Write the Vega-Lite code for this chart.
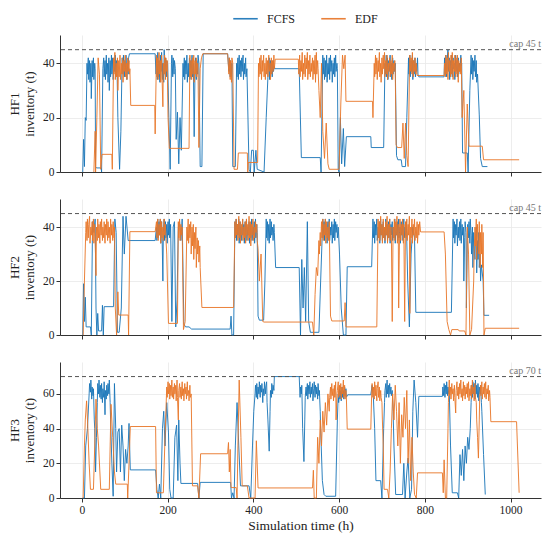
{
"$schema":"https://vega.github.io/schema/vega-lite/v6.json",
"padding":{"left":8,"top":5,"right":9,"bottom":5},
"spacing":21,
"datasets":{
"hf1_fcfs":[{"t":2,"v":0},{"t":4,"v":12},{"t":6,"v":2},{"t":8,"v":20},{"t":10,"v":19},{"t":12,"v":40},{"t":13,"v":36},{"t":15,"v":42},{"t":16,"v":34},{"t":18,"v":41},{"t":19,"v":33},{"t":21,"v":40},{"t":22,"v":27},{"t":24,"v":41},{"t":25,"v":35},{"t":27,"v":42},{"t":28,"v":34},{"t":30,"v":40},{"t":31,"v":38},{"t":32,"v":2},{"t":34,"v":1.5},{"t":45,"v":1.5},{"t":46,"v":0},{"t":49,"v":38},{"t":51,"v":42},{"t":52,"v":35},{"t":54,"v":41},{"t":55,"v":34},{"t":57,"v":43},{"t":58,"v":36},{"t":60,"v":40},{"t":61,"v":33},{"t":63,"v":42},{"t":64,"v":30},{"t":66,"v":41},{"t":67,"v":35},{"t":69,"v":43},{"t":70,"v":36},{"t":72,"v":42},{"t":73,"v":34},{"t":75,"v":41},{"t":76,"v":37},{"t":78,"v":43},{"t":79,"v":35},{"t":81,"v":41},{"t":82,"v":38},{"t":84,"v":20},{"t":88,"v":1},{"t":91,"v":15},{"t":94,"v":42},{"t":96,"v":36},{"t":97,"v":43},{"t":99,"v":35},{"t":100,"v":41},{"t":102,"v":37},{"t":103,"v":43},{"t":105,"v":34},{"t":106,"v":40},{"t":108,"v":36},{"t":109,"v":42},{"t":111,"v":43.5},{"t":171,"v":43.5},{"t":173,"v":36},{"t":174,"v":42},{"t":176,"v":34},{"t":177,"v":44},{"t":179,"v":35},{"t":180,"v":41},{"t":182,"v":33},{"t":183,"v":43},{"t":185,"v":37},{"t":186,"v":44},{"t":188,"v":34},{"t":189,"v":40},{"t":191,"v":33},{"t":192,"v":45},{"t":194,"v":36},{"t":195,"v":42},{"t":197,"v":35},{"t":198,"v":41},{"t":200,"v":40},{"t":203,"v":20},{"t":206,"v":1},{"t":209,"v":40},{"t":210,"v":43},{"t":212,"v":35},{"t":213,"v":42},{"t":215,"v":36},{"t":216,"v":41},{"t":218,"v":38},{"t":220,"v":12},{"t":223,"v":22},{"t":226,"v":3},{"t":229,"v":20},{"t":232,"v":8},{"t":236,"v":40},{"t":237,"v":35},{"t":239,"v":42},{"t":240,"v":34},{"t":242,"v":41},{"t":243,"v":36},{"t":245,"v":43},{"t":246,"v":33},{"t":248,"v":40},{"t":249,"v":35},{"t":251,"v":42},{"t":252,"v":34},{"t":254,"v":41},{"t":255,"v":36},{"t":257,"v":43},{"t":258,"v":35},{"t":260,"v":40},{"t":262,"v":13},{"t":264,"v":38},{"t":265,"v":42},{"t":267,"v":34},{"t":268,"v":41},{"t":270,"v":36},{"t":271,"v":43},{"t":273,"v":40},{"t":276,"v":2},{"t":280,"v":2},{"t":283,"v":43.5},{"t":340,"v":43.5},{"t":343,"v":37},{"t":344,"v":42},{"t":346,"v":35},{"t":347,"v":41},{"t":349,"v":35},{"t":350,"v":40},{"t":352,"v":2},{"t":358,"v":2},{"t":361,"v":40},{"t":362,"v":35},{"t":364,"v":42},{"t":365,"v":34},{"t":367,"v":43},{"t":368,"v":36},{"t":370,"v":41},{"t":371,"v":35},{"t":373,"v":42},{"t":374,"v":37},{"t":376,"v":43},{"t":377,"v":34},{"t":379,"v":40},{"t":380,"v":36},{"t":382,"v":42},{"t":383,"v":35},{"t":385,"v":38},{"t":390,"v":1},{"t":393,"v":0},{"t":396,"v":8},{"t":400,"v":8},{"t":402,"v":0},{"t":406,"v":8},{"t":409,"v":1},{"t":425,"v":0},{"t":430,"v":20},{"t":434,"v":35},{"t":435,"v":40},{"t":437,"v":42},{"t":438,"v":34},{"t":440,"v":41},{"t":441,"v":36},{"t":443,"v":40},{"t":444,"v":35},{"t":446,"v":41},{"t":447,"v":37},{"t":449,"v":39},{"t":450,"v":38},{"t":507,"v":38},{"t":512,"v":5.3},{"t":556,"v":5.3},{"t":558,"v":0},{"t":562,"v":43},{"t":563,"v":36},{"t":565,"v":42},{"t":566,"v":34},{"t":568,"v":41},{"t":569,"v":35},{"t":571,"v":43},{"t":572,"v":33},{"t":574,"v":40},{"t":575,"v":36},{"t":577,"v":42},{"t":578,"v":34},{"t":580,"v":43},{"t":581,"v":37},{"t":583,"v":41},{"t":584,"v":33},{"t":586,"v":40},{"t":587,"v":36},{"t":589,"v":42},{"t":590,"v":35},{"t":592,"v":43},{"t":593,"v":37},{"t":595,"v":40},{"t":596,"v":38},{"t":598,"v":1},{"t":600,"v":0},{"t":603,"v":20},{"t":606,"v":3},{"t":610,"v":16},{"t":613,"v":2},{"t":617,"v":13},{"t":674,"v":13},{"t":675,"v":9},{"t":704,"v":9},{"t":707,"v":40},{"t":708,"v":36},{"t":710,"v":43},{"t":711,"v":35},{"t":713,"v":42},{"t":714,"v":34},{"t":716,"v":41},{"t":717,"v":37},{"t":719,"v":43},{"t":720,"v":35},{"t":722,"v":40},{"t":723,"v":34},{"t":725,"v":42},{"t":726,"v":36},{"t":728,"v":41},{"t":729,"v":37},{"t":731,"v":40},{"t":734,"v":6},{"t":737,"v":4.5},{"t":745,"v":4.5},{"t":747,"v":2},{"t":755,"v":2},{"t":758,"v":20},{"t":762,"v":42},{"t":763,"v":36},{"t":765,"v":43},{"t":766,"v":35},{"t":768,"v":41},{"t":769,"v":37},{"t":771,"v":43},{"t":772,"v":34},{"t":774,"v":41},{"t":775,"v":36},{"t":777,"v":42},{"t":778,"v":35},{"t":780,"v":40},{"t":781,"v":37},{"t":783,"v":42},{"t":784,"v":36},{"t":786,"v":35},{"t":845,"v":35},{"t":846,"v":42},{"t":848,"v":36},{"t":849,"v":43},{"t":851,"v":35},{"t":852,"v":41},{"t":854,"v":45},{"t":855,"v":37},{"t":857,"v":42},{"t":858,"v":34},{"t":860,"v":41},{"t":861,"v":36},{"t":863,"v":43},{"t":864,"v":35},{"t":866,"v":42},{"t":867,"v":38},{"t":869,"v":40},{"t":870,"v":34},{"t":872,"v":43},{"t":873,"v":37},{"t":875,"v":41},{"t":876,"v":35},{"t":878,"v":42},{"t":879,"v":36},{"t":881,"v":40},{"t":882,"v":37},{"t":884,"v":43},{"t":885,"v":39},{"t":886,"v":40},{"t":888,"v":7},{"t":899,"v":7},{"t":901,"v":0},{"t":905,"v":30},{"t":908,"v":43},{"t":909,"v":36},{"t":911,"v":42},{"t":912,"v":34},{"t":914,"v":41},{"t":915,"v":37},{"t":917,"v":43},{"t":918,"v":35},{"t":920,"v":41},{"t":921,"v":33},{"t":923,"v":36},{"t":927,"v":21},{"t":930,"v":5},{"t":934,"v":2},{"t":946,"v":2}],
"hf1_edf":[{"t":28,"v":0},{"t":31,"v":15},{"t":32,"v":0},{"t":35,"v":20},{"t":38,"v":42},{"t":41,"v":36},{"t":44,"v":1},{"t":47,"v":6.5},{"t":70,"v":6.5},{"t":71,"v":1},{"t":74,"v":42},{"t":75,"v":36},{"t":77,"v":44},{"t":78,"v":34},{"t":80,"v":40},{"t":81,"v":35},{"t":83,"v":42},{"t":84,"v":30},{"t":86,"v":41},{"t":87,"v":35},{"t":89,"v":43},{"t":90,"v":34},{"t":92,"v":40},{"t":93,"v":36},{"t":95,"v":42},{"t":96,"v":33},{"t":98,"v":41},{"t":99,"v":37},{"t":101,"v":43},{"t":102,"v":35},{"t":104,"v":40},{"t":105,"v":34},{"t":107,"v":42},{"t":108,"v":37},{"t":110,"v":41},{"t":111,"v":36},{"t":112,"v":38},{"t":114,"v":24.5},{"t":170,"v":24.5},{"t":171,"v":14},{"t":174,"v":43},{"t":175,"v":35},{"t":177,"v":42},{"t":178,"v":34},{"t":180,"v":44},{"t":181,"v":36},{"t":183,"v":41},{"t":184,"v":33},{"t":186,"v":43},{"t":187,"v":35},{"t":189,"v":24},{"t":190,"v":40},{"t":192,"v":36},{"t":193,"v":43},{"t":195,"v":34},{"t":196,"v":42},{"t":198,"v":37},{"t":199,"v":41},{"t":201,"v":20},{"t":204,"v":8.7},{"t":250,"v":8.7},{"t":252,"v":43},{"t":253,"v":35},{"t":255,"v":41},{"t":256,"v":34},{"t":258,"v":42},{"t":259,"v":36},{"t":261,"v":43},{"t":262,"v":33},{"t":264,"v":41},{"t":265,"v":36},{"t":267,"v":42},{"t":268,"v":35},{"t":270,"v":40},{"t":271,"v":37},{"t":273,"v":9},{"t":276,"v":38},{"t":279,"v":42},{"t":282,"v":43.5},{"t":340,"v":43.5},{"t":343,"v":36},{"t":344,"v":42},{"t":346,"v":34},{"t":347,"v":41},{"t":349,"v":33},{"t":350,"v":42},{"t":352,"v":40},{"t":355,"v":1},{"t":363,"v":1},{"t":365,"v":7},{"t":386,"v":7},{"t":387,"v":0},{"t":388,"v":3.5},{"t":410,"v":3.5},{"t":412,"v":40},{"t":413,"v":35},{"t":415,"v":42},{"t":416,"v":36},{"t":418,"v":43},{"t":419,"v":34},{"t":421,"v":41},{"t":422,"v":37},{"t":424,"v":43},{"t":425,"v":35},{"t":427,"v":40},{"t":428,"v":34},{"t":430,"v":42},{"t":431,"v":36},{"t":433,"v":41},{"t":434,"v":35},{"t":436,"v":43},{"t":437,"v":37},{"t":439,"v":40},{"t":440,"v":34},{"t":442,"v":42},{"t":443,"v":36},{"t":445,"v":41},{"t":446,"v":37},{"t":448,"v":43},{"t":449,"v":38},{"t":451,"v":41.5},{"t":505,"v":41.5},{"t":506,"v":36},{"t":508,"v":43},{"t":509,"v":35},{"t":511,"v":41},{"t":512,"v":37},{"t":514,"v":44},{"t":515,"v":34},{"t":517,"v":40},{"t":518,"v":36},{"t":520,"v":43},{"t":521,"v":35},{"t":523,"v":42},{"t":524,"v":38},{"t":526,"v":44},{"t":527,"v":34},{"t":529,"v":41},{"t":530,"v":36},{"t":532,"v":43},{"t":533,"v":35},{"t":535,"v":40},{"t":536,"v":37},{"t":538,"v":42},{"t":539,"v":34},{"t":541,"v":41},{"t":542,"v":36},{"t":544,"v":43},{"t":545,"v":33},{"t":547,"v":44},{"t":548,"v":36},{"t":550,"v":41},{"t":551,"v":38},{"t":553,"v":30},{"t":556,"v":20},{"t":559,"v":40},{"t":562,"v":15},{"t":566,"v":5},{"t":570,"v":18},{"t":574,"v":3},{"t":577,"v":1},{"t":600,"v":1},{"t":604,"v":25},{"t":608,"v":43},{"t":611,"v":38},{"t":614,"v":43},{"t":616,"v":26},{"t":678,"v":26},{"t":679,"v":20},{"t":682,"v":40},{"t":683,"v":35},{"t":685,"v":43},{"t":686,"v":36},{"t":688,"v":42},{"t":689,"v":34},{"t":691,"v":41},{"t":692,"v":37},{"t":694,"v":44},{"t":695,"v":35},{"t":697,"v":40},{"t":698,"v":33},{"t":700,"v":42},{"t":701,"v":36},{"t":703,"v":43},{"t":704,"v":38},{"t":706,"v":44},{"t":707,"v":35},{"t":709,"v":41},{"t":710,"v":36},{"t":712,"v":43},{"t":713,"v":34},{"t":715,"v":40},{"t":716,"v":37},{"t":718,"v":42},{"t":719,"v":35},{"t":721,"v":41},{"t":722,"v":36},{"t":724,"v":43},{"t":725,"v":34},{"t":727,"v":40},{"t":728,"v":37},{"t":730,"v":41},{"t":731,"v":38},{"t":733,"v":10},{"t":736,"v":9},{"t":746,"v":9},{"t":749,"v":18},{"t":752,"v":5},{"t":755,"v":18},{"t":758,"v":6},{"t":761,"v":2},{"t":764,"v":35},{"t":765,"v":43},{"t":767,"v":37},{"t":768,"v":42},{"t":770,"v":36},{"t":771,"v":44},{"t":773,"v":35},{"t":774,"v":41},{"t":776,"v":37},{"t":777,"v":42},{"t":779,"v":36},{"t":780,"v":40},{"t":782,"v":35.5},{"t":845,"v":35.5},{"t":846,"v":40},{"t":848,"v":35},{"t":849,"v":43},{"t":851,"v":36},{"t":852,"v":42},{"t":854,"v":34},{"t":855,"v":44},{"t":857,"v":37},{"t":858,"v":41},{"t":860,"v":35},{"t":861,"v":43},{"t":863,"v":36},{"t":864,"v":44},{"t":866,"v":34},{"t":867,"v":41},{"t":869,"v":37},{"t":870,"v":43},{"t":872,"v":35},{"t":873,"v":42},{"t":875,"v":36},{"t":876,"v":43},{"t":878,"v":33},{"t":879,"v":41},{"t":881,"v":37},{"t":882,"v":40},{"t":884,"v":36},{"t":885,"v":42},{"t":887,"v":20},{"t":891,"v":30},{"t":895,"v":0},{"t":899,"v":25},{"t":903,"v":9.5},{"t":934,"v":9.5},{"t":937,"v":4.5},{"t":1020,"v":4.5}],
"hf2_fcfs":[{"t":2,"v":0},{"t":4,"v":19},{"t":6,"v":5},{"t":8,"v":14},{"t":10,"v":3},{"t":20,"v":3},{"t":22,"v":0},{"t":25,"v":42},{"t":28,"v":38},{"t":31,"v":43},{"t":33,"v":10},{"t":35,"v":0},{"t":37,"v":8},{"t":39,"v":1.5},{"t":46,"v":1.5},{"t":48,"v":11},{"t":50,"v":0},{"t":52,"v":10.5},{"t":74,"v":10.5},{"t":77,"v":43},{"t":80,"v":38},{"t":83,"v":1},{"t":87,"v":1},{"t":92,"v":10},{"t":96,"v":44},{"t":99,"v":30},{"t":103,"v":44},{"t":108,"v":35},{"t":171,"v":35},{"t":174,"v":40},{"t":175,"v":35},{"t":177,"v":43},{"t":178,"v":36},{"t":180,"v":42},{"t":181,"v":37},{"t":183,"v":43},{"t":184,"v":34},{"t":186,"v":42},{"t":187,"v":38},{"t":189,"v":20},{"t":190,"v":38},{"t":192,"v":43},{"t":193,"v":35},{"t":195,"v":42},{"t":196,"v":36},{"t":198,"v":41},{"t":199,"v":34},{"t":201,"v":42},{"t":202,"v":37},{"t":204,"v":43},{"t":205,"v":36},{"t":207,"v":41},{"t":210,"v":5},{"t":213,"v":40},{"t":216,"v":42},{"t":219,"v":3},{"t":222,"v":13},{"t":225,"v":40},{"t":228,"v":42},{"t":231,"v":35},{"t":234,"v":43},{"t":238,"v":4},{"t":242,"v":3},{"t":250,"v":3},{"t":256,"v":2.2},{"t":346,"v":2.2},{"t":348,"v":7},{"t":350,"v":0},{"t":354,"v":0},{"t":357,"v":42},{"t":358,"v":36},{"t":360,"v":43},{"t":361,"v":35},{"t":363,"v":41},{"t":364,"v":37},{"t":366,"v":43},{"t":367,"v":34},{"t":369,"v":42},{"t":370,"v":36},{"t":372,"v":40},{"t":373,"v":35},{"t":375,"v":43},{"t":376,"v":37},{"t":378,"v":41},{"t":379,"v":34},{"t":381,"v":42},{"t":382,"v":36},{"t":384,"v":43},{"t":385,"v":35},{"t":387,"v":40},{"t":388,"v":37},{"t":390,"v":42},{"t":391,"v":34},{"t":393,"v":41},{"t":394,"v":36},{"t":396,"v":43},{"t":397,"v":35},{"t":399,"v":40},{"t":400,"v":37},{"t":402,"v":42},{"t":403,"v":34},{"t":405,"v":43},{"t":406,"v":36},{"t":408,"v":41},{"t":409,"v":38},{"t":411,"v":7},{"t":414,"v":5.5},{"t":424,"v":5.5},{"t":427,"v":20},{"t":430,"v":43},{"t":431,"v":36},{"t":433,"v":42},{"t":434,"v":35},{"t":436,"v":41},{"t":437,"v":34},{"t":439,"v":43},{"t":440,"v":36},{"t":442,"v":42},{"t":443,"v":37},{"t":445,"v":40},{"t":446,"v":35},{"t":448,"v":41},{"t":449,"v":38},{"t":452,"v":25},{"t":507,"v":25},{"t":510,"v":0},{"t":513,"v":28},{"t":516,"v":10},{"t":519,"v":25},{"t":522,"v":5},{"t":526,"v":42},{"t":529,"v":5},{"t":533,"v":1},{"t":553,"v":1},{"t":557,"v":20},{"t":562,"v":43},{"t":563,"v":36},{"t":565,"v":42},{"t":566,"v":35},{"t":568,"v":43},{"t":569,"v":37},{"t":571,"v":41},{"t":572,"v":34},{"t":574,"v":42},{"t":575,"v":36},{"t":577,"v":43},{"t":578,"v":35},{"t":580,"v":40},{"t":581,"v":37},{"t":583,"v":42},{"t":584,"v":34},{"t":586,"v":41},{"t":587,"v":36},{"t":589,"v":43},{"t":590,"v":35},{"t":592,"v":42},{"t":593,"v":38},{"t":595,"v":41},{"t":596,"v":36},{"t":598,"v":40},{"t":601,"v":30},{"t":605,"v":10},{"t":610,"v":0},{"t":616,"v":0},{"t":619,"v":25.3},{"t":676,"v":25.3},{"t":679,"v":43},{"t":680,"v":36},{"t":682,"v":42},{"t":683,"v":34},{"t":685,"v":41},{"t":686,"v":37},{"t":688,"v":43},{"t":689,"v":35},{"t":691,"v":40},{"t":692,"v":36},{"t":694,"v":42},{"t":695,"v":34},{"t":697,"v":43},{"t":698,"v":37},{"t":700,"v":41},{"t":701,"v":35},{"t":703,"v":42},{"t":704,"v":36},{"t":706,"v":40},{"t":707,"v":34},{"t":709,"v":43},{"t":710,"v":37},{"t":712,"v":41},{"t":713,"v":35},{"t":715,"v":42},{"t":716,"v":36},{"t":718,"v":43},{"t":719,"v":34},{"t":721,"v":41},{"t":722,"v":37},{"t":724,"v":42},{"t":725,"v":35},{"t":727,"v":40},{"t":728,"v":36},{"t":730,"v":43},{"t":731,"v":34},{"t":733,"v":41},{"t":734,"v":37},{"t":736,"v":42},{"t":737,"v":35},{"t":739,"v":43},{"t":740,"v":36},{"t":742,"v":40},{"t":743,"v":34},{"t":745,"v":42},{"t":746,"v":37},{"t":748,"v":41},{"t":749,"v":35},{"t":751,"v":43},{"t":752,"v":36},{"t":754,"v":40},{"t":755,"v":37},{"t":757,"v":42},{"t":760,"v":20},{"t":764,"v":3},{"t":768,"v":30},{"t":772,"v":40},{"t":776,"v":36},{"t":779,"v":8.4},{"t":862,"v":8.4},{"t":866,"v":43},{"t":867,"v":36},{"t":869,"v":42},{"t":870,"v":34},{"t":872,"v":41},{"t":873,"v":37},{"t":875,"v":43},{"t":876,"v":33},{"t":878,"v":40},{"t":879,"v":36},{"t":881,"v":42},{"t":882,"v":35},{"t":884,"v":43},{"t":885,"v":34},{"t":887,"v":41},{"t":888,"v":37},{"t":890,"v":40},{"t":891,"v":20},{"t":893,"v":36},{"t":894,"v":42},{"t":896,"v":38},{"t":897,"v":10},{"t":899,"v":35},{"t":900,"v":41},{"t":902,"v":36},{"t":903,"v":42},{"t":905,"v":34},{"t":906,"v":43},{"t":908,"v":37},{"t":909,"v":30},{"t":911,"v":40},{"t":912,"v":25},{"t":914,"v":38},{"t":915,"v":33},{"t":917,"v":28},{"t":918,"v":35},{"t":920,"v":40},{"t":921,"v":23},{"t":923,"v":35},{"t":924,"v":28},{"t":926,"v":38},{"t":927,"v":25},{"t":929,"v":30},{"t":930,"v":20},{"t":932,"v":26},{"t":936,"v":20},{"t":938,"v":7.3},{"t":950,"v":7.3}],
"hf2_edf":[{"t":3,"v":0},{"t":6,"v":20},{"t":9,"v":38},{"t":10,"v":42},{"t":12,"v":35},{"t":13,"v":43},{"t":15,"v":36},{"t":16,"v":41},{"t":18,"v":44},{"t":19,"v":34},{"t":21,"v":40},{"t":22,"v":37},{"t":24,"v":42},{"t":25,"v":35},{"t":27,"v":43},{"t":28,"v":34},{"t":30,"v":41},{"t":31,"v":36},{"t":33,"v":22},{"t":34,"v":40},{"t":36,"v":35},{"t":37,"v":43},{"t":39,"v":36},{"t":40,"v":41},{"t":42,"v":34},{"t":43,"v":42},{"t":45,"v":37},{"t":46,"v":43},{"t":48,"v":35},{"t":49,"v":40},{"t":51,"v":36},{"t":52,"v":42},{"t":54,"v":34},{"t":55,"v":41},{"t":57,"v":37},{"t":58,"v":43},{"t":60,"v":35},{"t":61,"v":42},{"t":63,"v":36},{"t":64,"v":40},{"t":66,"v":34},{"t":67,"v":43},{"t":69,"v":37},{"t":70,"v":41},{"t":72,"v":35},{"t":73,"v":42},{"t":75,"v":36},{"t":76,"v":40},{"t":78,"v":10},{"t":81,"v":0},{"t":84,"v":16},{"t":86,"v":7.4},{"t":108,"v":7.4},{"t":109,"v":0},{"t":112,"v":38.3},{"t":171,"v":38.3},{"t":174,"v":42},{"t":175,"v":36},{"t":177,"v":43},{"t":178,"v":35},{"t":180,"v":41},{"t":181,"v":37},{"t":183,"v":43},{"t":184,"v":34},{"t":186,"v":42},{"t":187,"v":36},{"t":189,"v":40},{"t":190,"v":35},{"t":192,"v":43},{"t":193,"v":37},{"t":195,"v":41},{"t":196,"v":36},{"t":198,"v":30},{"t":202,"v":4.3},{"t":223,"v":4.3},{"t":225,"v":42},{"t":226,"v":36},{"t":228,"v":43},{"t":229,"v":35},{"t":231,"v":41},{"t":232,"v":37},{"t":234,"v":40},{"t":237,"v":2},{"t":241,"v":5},{"t":245,"v":40},{"t":246,"v":35},{"t":248,"v":43},{"t":249,"v":34},{"t":251,"v":41},{"t":252,"v":36},{"t":254,"v":42},{"t":255,"v":30},{"t":257,"v":40},{"t":258,"v":33},{"t":260,"v":41},{"t":261,"v":28},{"t":263,"v":38},{"t":264,"v":32},{"t":266,"v":40},{"t":267,"v":25},{"t":269,"v":36},{"t":270,"v":30},{"t":272,"v":35},{"t":273,"v":27},{"t":275,"v":33},{"t":276,"v":25},{"t":280,"v":10.2},{"t":354,"v":10.2},{"t":357,"v":42},{"t":358,"v":36},{"t":360,"v":43},{"t":361,"v":37},{"t":363,"v":41},{"t":364,"v":35},{"t":366,"v":44},{"t":367,"v":36},{"t":369,"v":42},{"t":370,"v":34},{"t":372,"v":41},{"t":373,"v":37},{"t":375,"v":43},{"t":376,"v":35},{"t":378,"v":40},{"t":379,"v":36},{"t":381,"v":42},{"t":382,"v":34},{"t":384,"v":43},{"t":385,"v":37},{"t":387,"v":41},{"t":388,"v":35},{"t":390,"v":44},{"t":391,"v":36},{"t":393,"v":42},{"t":394,"v":33},{"t":396,"v":41},{"t":397,"v":37},{"t":399,"v":43},{"t":400,"v":35},{"t":402,"v":40},{"t":403,"v":36},{"t":405,"v":42},{"t":406,"v":38},{"t":408,"v":41},{"t":409,"v":35},{"t":411,"v":32},{"t":414,"v":20},{"t":418,"v":30},{"t":422,"v":5},{"t":425,"v":4.8},{"t":538,"v":4.8},{"t":541,"v":0},{"t":544,"v":15},{"t":547,"v":25},{"t":550,"v":22},{"t":553,"v":35},{"t":554,"v":30},{"t":556,"v":38},{"t":557,"v":33},{"t":559,"v":42},{"t":560,"v":36},{"t":562,"v":43},{"t":563,"v":35},{"t":565,"v":41},{"t":566,"v":37},{"t":568,"v":43},{"t":569,"v":34},{"t":571,"v":42},{"t":572,"v":36},{"t":574,"v":40},{"t":575,"v":35},{"t":577,"v":42},{"t":580,"v":7},{"t":583,"v":5.2},{"t":612,"v":5.2},{"t":614,"v":12},{"t":616,"v":3},{"t":688,"v":3},{"t":691,"v":43},{"t":692,"v":36},{"t":694,"v":42},{"t":695,"v":35},{"t":697,"v":44},{"t":698,"v":37},{"t":700,"v":41},{"t":701,"v":34},{"t":703,"v":43},{"t":704,"v":36},{"t":706,"v":40},{"t":707,"v":35},{"t":709,"v":42},{"t":710,"v":37},{"t":712,"v":44},{"t":713,"v":34},{"t":715,"v":41},{"t":716,"v":36},{"t":718,"v":43},{"t":719,"v":35},{"t":721,"v":40},{"t":722,"v":37},{"t":724,"v":5},{"t":726,"v":40},{"t":727,"v":36},{"t":729,"v":43},{"t":730,"v":35},{"t":732,"v":42},{"t":733,"v":37},{"t":735,"v":44},{"t":736,"v":34},{"t":738,"v":41},{"t":739,"v":10},{"t":741,"v":38},{"t":742,"v":43},{"t":744,"v":35},{"t":745,"v":41},{"t":747,"v":37},{"t":748,"v":43},{"t":750,"v":34},{"t":751,"v":41},{"t":753,"v":5},{"t":755,"v":42},{"t":756,"v":36},{"t":758,"v":43},{"t":759,"v":35},{"t":761,"v":41},{"t":762,"v":37},{"t":764,"v":44},{"t":765,"v":8},{"t":767,"v":40},{"t":768,"v":36},{"t":770,"v":43},{"t":771,"v":34},{"t":773,"v":41},{"t":774,"v":37},{"t":776,"v":43},{"t":777,"v":35},{"t":779,"v":40},{"t":780,"v":36},{"t":782,"v":42},{"t":783,"v":34},{"t":785,"v":41},{"t":786,"v":37},{"t":788,"v":42},{"t":790,"v":38.2},{"t":845,"v":38.2},{"t":848,"v":30},{"t":852,"v":5},{"t":856,"v":2},{"t":860,"v":0},{"t":863,"v":2},{"t":878,"v":2},{"t":880,"v":1.5},{"t":893,"v":1.5},{"t":896,"v":0},{"t":899,"v":40},{"t":902,"v":30},{"t":905,"v":0},{"t":909,"v":2},{"t":914,"v":20},{"t":915,"v":30},{"t":917,"v":40},{"t":918,"v":33},{"t":920,"v":43},{"t":921,"v":28},{"t":923,"v":41},{"t":924,"v":35},{"t":926,"v":30},{"t":927,"v":42},{"t":929,"v":25},{"t":930,"v":38},{"t":932,"v":30},{"t":933,"v":41},{"t":935,"v":25},{"t":936,"v":38},{"t":938,"v":0},{"t":941,"v":2.5},{"t":1020,"v":2.5}],
"hf3_fcfs":[{"t":2,"v":0},{"t":6,"v":0},{"t":9,"v":30},{"t":13,"v":40},{"t":17,"v":60},{"t":18,"v":66},{"t":20,"v":61},{"t":21,"v":68},{"t":23,"v":57},{"t":24,"v":64},{"t":26,"v":59},{"t":27,"v":63},{"t":29,"v":45},{"t":30,"v":40},{"t":32,"v":15},{"t":34,"v":35},{"t":36,"v":55},{"t":37,"v":66},{"t":39,"v":60},{"t":40,"v":68},{"t":42,"v":58},{"t":43,"v":65},{"t":45,"v":57},{"t":46,"v":66},{"t":48,"v":55},{"t":49,"v":63},{"t":51,"v":58},{"t":52,"v":67},{"t":54,"v":48},{"t":55,"v":62},{"t":57,"v":57},{"t":58,"v":65},{"t":60,"v":59},{"t":61,"v":66},{"t":63,"v":60},{"t":64,"v":68},{"t":66,"v":55},{"t":67,"v":45},{"t":70,"v":20},{"t":73,"v":1},{"t":76,"v":66},{"t":79,"v":40},{"t":81,"v":15},{"t":84,"v":38},{"t":87,"v":40},{"t":90,"v":15},{"t":93,"v":42},{"t":96,"v":30},{"t":99,"v":10},{"t":102,"v":28},{"t":105,"v":20},{"t":108,"v":30},{"t":110,"v":43},{"t":113,"v":16.2},{"t":172,"v":16.2},{"t":175,"v":5},{"t":178,"v":0},{"t":181,"v":8},{"t":184,"v":0},{"t":188,"v":40},{"t":191,"v":50},{"t":194,"v":30},{"t":198,"v":55},{"t":202,"v":38},{"t":205,"v":5},{"t":208,"v":0},{"t":213,"v":0},{"t":217,"v":35},{"t":221,"v":42},{"t":224,"v":10},{"t":226,"v":45},{"t":229,"v":20},{"t":231,"v":8.4},{"t":270,"v":8.4},{"t":273,"v":0},{"t":276,"v":9},{"t":347,"v":9},{"t":349,"v":0},{"t":352,"v":3},{"t":355,"v":0},{"t":358,"v":30},{"t":362,"v":55},{"t":366,"v":30},{"t":370,"v":7},{"t":390,"v":7},{"t":394,"v":0},{"t":398,"v":30},{"t":401,"v":50},{"t":404,"v":60},{"t":405,"v":65},{"t":407,"v":58},{"t":408,"v":66},{"t":410,"v":57},{"t":411,"v":64},{"t":413,"v":60},{"t":414,"v":67},{"t":416,"v":58},{"t":417,"v":65},{"t":419,"v":61},{"t":420,"v":66},{"t":422,"v":55},{"t":423,"v":63},{"t":425,"v":59},{"t":426,"v":67},{"t":428,"v":60},{"t":429,"v":64},{"t":431,"v":67},{"t":432,"v":55},{"t":434,"v":45},{"t":437,"v":27},{"t":439,"v":50},{"t":440,"v":62},{"t":442,"v":58},{"t":443,"v":66},{"t":445,"v":60},{"t":446,"v":65},{"t":448,"v":62},{"t":449,"v":70},{"t":507,"v":70},{"t":509,"v":58},{"t":510,"v":64},{"t":512,"v":60},{"t":513,"v":65},{"t":515,"v":40},{"t":518,"v":21},{"t":520,"v":45},{"t":521,"v":58},{"t":523,"v":64},{"t":524,"v":59},{"t":526,"v":66},{"t":527,"v":57},{"t":529,"v":65},{"t":530,"v":60},{"t":532,"v":67},{"t":533,"v":58},{"t":535,"v":64},{"t":536,"v":60},{"t":538,"v":66},{"t":539,"v":56},{"t":541,"v":63},{"t":542,"v":67},{"t":544,"v":58},{"t":545,"v":65},{"t":547,"v":60},{"t":548,"v":64},{"t":550,"v":57},{"t":551,"v":66},{"t":553,"v":59},{"t":554,"v":62},{"t":556,"v":50},{"t":557,"v":40},{"t":561,"v":10},{"t":565,"v":2},{"t":569,"v":1},{"t":592,"v":1},{"t":596,"v":45},{"t":598,"v":60},{"t":599,"v":55},{"t":601,"v":63},{"t":602,"v":57},{"t":604,"v":62},{"t":605,"v":56},{"t":607,"v":64},{"t":608,"v":58},{"t":610,"v":62},{"t":611,"v":57},{"t":613,"v":64},{"t":614,"v":59},{"t":616,"v":63},{"t":617,"v":58},{"t":620,"v":59.5},{"t":674,"v":59.5},{"t":677,"v":65},{"t":680,"v":58},{"t":683,"v":40},{"t":686,"v":10},{"t":697,"v":10},{"t":700,"v":0},{"t":704,"v":40},{"t":706,"v":55},{"t":707,"v":62},{"t":709,"v":66},{"t":710,"v":58},{"t":712,"v":68},{"t":713,"v":60},{"t":715,"v":65},{"t":716,"v":58},{"t":718,"v":66},{"t":719,"v":60},{"t":721,"v":64},{"t":722,"v":59},{"t":724,"v":62},{"t":726,"v":50},{"t":728,"v":30},{"t":732,"v":2},{"t":748,"v":2},{"t":751,"v":20},{"t":754,"v":0},{"t":758,"v":15},{"t":761,"v":23},{"t":765,"v":0},{"t":769,"v":5},{"t":772,"v":50},{"t":775,"v":68},{"t":779,"v":55},{"t":783,"v":35},{"t":786,"v":58.6},{"t":841,"v":58.6},{"t":842,"v":64},{"t":844,"v":59},{"t":845,"v":66},{"t":847,"v":58},{"t":848,"v":65},{"t":850,"v":60},{"t":851,"v":67},{"t":853,"v":59},{"t":854,"v":64},{"t":856,"v":60},{"t":857,"v":62},{"t":860,"v":30},{"t":864,"v":3},{"t":876,"v":3},{"t":879,"v":0},{"t":882,"v":25},{"t":885,"v":13},{"t":888,"v":28},{"t":891,"v":10},{"t":894,"v":30},{"t":897,"v":20},{"t":900,"v":35},{"t":903,"v":28},{"t":906,"v":40},{"t":908,"v":55},{"t":909,"v":65},{"t":911,"v":58},{"t":912,"v":67},{"t":914,"v":60},{"t":915,"v":66},{"t":917,"v":57},{"t":918,"v":68},{"t":920,"v":60},{"t":921,"v":65},{"t":923,"v":58},{"t":924,"v":66},{"t":926,"v":56},{"t":927,"v":64},{"t":929,"v":60},{"t":930,"v":65},{"t":932,"v":55},{"t":933,"v":50},{"t":937,"v":25},{"t":941,"v":2}],
"hf3_edf":[{"t":3,"v":0},{"t":6,"v":30},{"t":8,"v":45},{"t":11,"v":56},{"t":14,"v":40},{"t":17,"v":20},{"t":20,"v":5},{"t":27,"v":5},{"t":30,"v":30},{"t":33,"v":57},{"t":36,"v":40},{"t":39,"v":30},{"t":42,"v":15},{"t":44,"v":5},{"t":64,"v":5},{"t":66,"v":30},{"t":68,"v":54},{"t":72,"v":35},{"t":76,"v":15},{"t":79,"v":8},{"t":106,"v":8},{"t":107,"v":0},{"t":110,"v":20},{"t":113,"v":41.2},{"t":172,"v":41.2},{"t":174,"v":3},{"t":190,"v":3},{"t":194,"v":35},{"t":198,"v":64},{"t":199,"v":58},{"t":201,"v":67},{"t":202,"v":60},{"t":204,"v":66},{"t":205,"v":57},{"t":207,"v":65},{"t":208,"v":59},{"t":210,"v":68},{"t":211,"v":58},{"t":213,"v":64},{"t":214,"v":57},{"t":216,"v":66},{"t":217,"v":60},{"t":219,"v":65},{"t":220,"v":56},{"t":222,"v":68},{"t":223,"v":58},{"t":225,"v":45},{"t":226,"v":62},{"t":228,"v":66},{"t":229,"v":58},{"t":231,"v":64},{"t":232,"v":57},{"t":234,"v":67},{"t":235,"v":59},{"t":237,"v":63},{"t":238,"v":56},{"t":240,"v":66},{"t":241,"v":60},{"t":243,"v":64},{"t":244,"v":57},{"t":246,"v":67},{"t":247,"v":59},{"t":249,"v":62},{"t":250,"v":56},{"t":252,"v":65},{"t":253,"v":58},{"t":255,"v":60},{"t":258,"v":7},{"t":270,"v":7},{"t":273,"v":0},{"t":277,"v":25.5},{"t":340,"v":25.5},{"t":342,"v":32},{"t":344,"v":15},{"t":346,"v":28},{"t":348,"v":6},{"t":360,"v":6},{"t":362,"v":0},{"t":364,"v":30},{"t":367,"v":68},{"t":371,"v":35},{"t":374,"v":7},{"t":386,"v":7},{"t":390,"v":0},{"t":404,"v":0},{"t":407,"v":33},{"t":411,"v":5.8},{"t":538,"v":5.8},{"t":540,"v":16},{"t":542,"v":0},{"t":547,"v":0},{"t":550,"v":35},{"t":553,"v":20},{"t":556,"v":45},{"t":559,"v":30},{"t":562,"v":50},{"t":565,"v":38},{"t":568,"v":55},{"t":571,"v":42},{"t":574,"v":60},{"t":577,"v":50},{"t":578,"v":58},{"t":580,"v":64},{"t":581,"v":57},{"t":583,"v":66},{"t":584,"v":59},{"t":586,"v":63},{"t":587,"v":56},{"t":589,"v":65},{"t":590,"v":58},{"t":592,"v":67},{"t":593,"v":45},{"t":595,"v":60},{"t":596,"v":62},{"t":598,"v":67},{"t":599,"v":58},{"t":601,"v":65},{"t":602,"v":59},{"t":604,"v":66},{"t":605,"v":57},{"t":607,"v":64},{"t":608,"v":60},{"t":610,"v":68},{"t":611,"v":58},{"t":613,"v":65},{"t":614,"v":57},{"t":616,"v":62},{"t":617,"v":58},{"t":619,"v":39.7},{"t":674,"v":39.7},{"t":676,"v":60},{"t":677,"v":66},{"t":679,"v":58},{"t":680,"v":64},{"t":682,"v":57},{"t":683,"v":67},{"t":685,"v":59},{"t":686,"v":65},{"t":688,"v":56},{"t":689,"v":63},{"t":691,"v":67},{"t":692,"v":58},{"t":694,"v":64},{"t":695,"v":56},{"t":697,"v":62},{"t":698,"v":58},{"t":700,"v":55},{"t":701,"v":45},{"t":703,"v":30},{"t":705,"v":5},{"t":713,"v":5},{"t":716,"v":0},{"t":719,"v":15},{"t":722,"v":40},{"t":725,"v":60},{"t":728,"v":45},{"t":731,"v":65},{"t":734,"v":50},{"t":737,"v":30},{"t":740,"v":55},{"t":743,"v":20},{"t":746,"v":48},{"t":749,"v":35},{"t":752,"v":58},{"t":755,"v":40},{"t":758,"v":62},{"t":761,"v":20},{"t":764,"v":45},{"t":767,"v":10},{"t":770,"v":35},{"t":773,"v":15},{"t":776,"v":2},{"t":780,"v":0},{"t":783,"v":14.5},{"t":841,"v":14.5},{"t":843,"v":3},{"t":845,"v":22},{"t":848,"v":0},{"t":851,"v":0},{"t":854,"v":40},{"t":855,"v":55},{"t":857,"v":68},{"t":858,"v":59},{"t":860,"v":64},{"t":861,"v":57},{"t":863,"v":66},{"t":864,"v":60},{"t":866,"v":63},{"t":867,"v":56},{"t":869,"v":65},{"t":870,"v":58},{"t":872,"v":49},{"t":873,"v":62},{"t":875,"v":67},{"t":876,"v":59},{"t":878,"v":64},{"t":879,"v":57},{"t":881,"v":66},{"t":882,"v":60},{"t":884,"v":68},{"t":885,"v":58},{"t":887,"v":63},{"t":888,"v":56},{"t":890,"v":67},{"t":891,"v":59},{"t":893,"v":65},{"t":894,"v":57},{"t":896,"v":64},{"t":897,"v":60},{"t":899,"v":66},{"t":900,"v":58},{"t":902,"v":67},{"t":903,"v":56},{"t":905,"v":63},{"t":906,"v":59},{"t":908,"v":65},{"t":909,"v":57},{"t":911,"v":68},{"t":912,"v":60},{"t":914,"v":64},{"t":915,"v":56},{"t":917,"v":66},{"t":918,"v":58},{"t":920,"v":55},{"t":921,"v":45},{"t":923,"v":35},{"t":925,"v":23},{"t":927,"v":45},{"t":928,"v":58},{"t":930,"v":65},{"t":931,"v":59},{"t":933,"v":67},{"t":934,"v":57},{"t":936,"v":64},{"t":937,"v":60},{"t":939,"v":66},{"t":940,"v":58},{"t":942,"v":67},{"t":943,"v":57},{"t":945,"v":63},{"t":946,"v":60},{"t":948,"v":65},{"t":949,"v":56},{"t":951,"v":62},{"t":952,"v":58},{"t":954,"v":44},{"t":1014,"v":44},{"t":1020,"v":3}]
},
"vconcat":[
{"width":481,"height":137,
 "layer":[
  {"data":{"name":"hf1_fcfs"},"mark":{"type":"line","strokeWidth":1,"opacity":0.92},
   "encoding":{"x":{"field":"t","type":"quantitative","scale":{"domain":[-51,1071],"nice":false,"zero":false},"axis":{"values":[0,200,400,600,800,1000],"labels":false,"title":null}},
    "y":{"field":"v","type":"quantitative","scale":{"domain":[0,50.4],"nice":false},"axis":{"values":[0,20,40],"title":["HF1","inventory (t)"]}},
    "color":{"datum":"FCFS","type":"nominal","scale":{"domain":["FCFS","EDF"],"range":["#1b76b8","#e8772a"]},"legend":{"title":null}}}},
  {"data":{"name":"hf1_edf"},"mark":{"type":"line","strokeWidth":1,"opacity":0.92},
   "encoding":{"x":{"field":"t","type":"quantitative"},"y":{"field":"v","type":"quantitative"},
    "color":{"datum":"EDF","type":"nominal","scale":{"domain":["FCFS","EDF"],"range":["#1b76b8","#e8772a"]},"legend":{"title":null}}}},
  {"data":{"values":[{"cap":45,"label":"cap 45 t"}]},
   "layer":[
    {"mark":{"type":"rule","strokeDash":[4,3],"color":"#555555","strokeWidth":1},"encoding":{"y":{"field":"cap","type":"quantitative"}}},
    {"mark":{"type":"text","align":"right","baseline":"bottom","dy":-1,"fontSize":10,"color":"#777777"},"encoding":{"x":{"value":"width"},"y":{"field":"cap","type":"quantitative"},"text":{"field":"label"}}}
   ]}
 ]},
{"width":481,"height":136,
 "layer":[
  {"data":{"name":"hf2_fcfs"},"mark":{"type":"line","strokeWidth":1,"opacity":0.92},
   "encoding":{"x":{"field":"t","type":"quantitative","scale":{"domain":[-51,1071],"nice":false,"zero":false},"axis":{"values":[0,200,400,600,800,1000],"labels":false,"title":null}},
    "y":{"field":"v","type":"quantitative","scale":{"domain":[0,50.4],"nice":false},"axis":{"values":[0,20,40],"title":["HF2","inventory (t)"]}},
    "color":{"datum":"FCFS","type":"nominal","scale":{"domain":["FCFS","EDF"],"range":["#1b76b8","#e8772a"]},"legend":{"title":null}}}},
  {"data":{"name":"hf2_edf"},"mark":{"type":"line","strokeWidth":1,"opacity":0.92},
   "encoding":{"x":{"field":"t","type":"quantitative"},"y":{"field":"v","type":"quantitative"},
    "color":{"datum":"EDF","type":"nominal","scale":{"domain":["FCFS","EDF"],"range":["#1b76b8","#e8772a"]},"legend":{"title":null}}}},
  {"data":{"values":[{"cap":45,"label":"cap 45 t"}]},
   "layer":[
    {"mark":{"type":"rule","strokeDash":[4,3],"color":"#555555","strokeWidth":1},"encoding":{"y":{"field":"cap","type":"quantitative"}}},
    {"mark":{"type":"text","align":"right","baseline":"bottom","dy":-1,"fontSize":10,"color":"#777777"},"encoding":{"x":{"value":"width"},"y":{"field":"cap","type":"quantitative"},"text":{"field":"label"}}}
   ]}
 ]},
{"width":481,"height":136,
 "layer":[
  {"data":{"name":"hf3_fcfs"},"mark":{"type":"line","strokeWidth":1,"opacity":0.92},
   "encoding":{"x":{"field":"t","type":"quantitative","scale":{"domain":[-51,1071],"nice":false,"zero":false},"axis":{"values":[0,200,400,600,800,1000],"format":"d","title":"Simulation time (h)","titleFontSize":13.5,"titlePadding":3}},
    "y":{"field":"v","type":"quantitative","scale":{"domain":[0,78.4],"nice":false},"axis":{"values":[0,20,40,60],"title":["HF3","inventory (t)"]}},
    "color":{"datum":"FCFS","type":"nominal","scale":{"domain":["FCFS","EDF"],"range":["#1b76b8","#e8772a"]},"legend":{"title":null}}}},
  {"data":{"name":"hf3_edf"},"mark":{"type":"line","strokeWidth":1,"opacity":0.92},
   "encoding":{"x":{"field":"t","type":"quantitative"},"y":{"field":"v","type":"quantitative"},
    "color":{"datum":"EDF","type":"nominal","scale":{"domain":["FCFS","EDF"],"range":["#1b76b8","#e8772a"]},"legend":{"title":null}}}},
  {"data":{"values":[{"cap":70,"label":"cap 70 t"}]},
   "layer":[
    {"mark":{"type":"rule","strokeDash":[4,3],"color":"#555555","strokeWidth":1},"encoding":{"y":{"field":"cap","type":"quantitative"}}},
    {"mark":{"type":"text","align":"right","baseline":"bottom","dy":-1,"fontSize":10,"color":"#777777"},"encoding":{"x":{"value":"width"},"y":{"field":"cap","type":"quantitative"},"text":{"field":"label"}}}
   ]}
 ]}
],
"resolve":{"scale":{"color":"shared"},"legend":{"color":"shared"}},
"config":{
 "font":"Liberation Serif, Times New Roman, serif",
 "text":{"font":"Liberation Serif, Times New Roman, serif"},
 "view":{"stroke":null},
 "axis":{"labelFont":"Liberation Serif, Times New Roman, serif","titleFont":"Liberation Serif, Times New Roman, serif","domainColor":"#333333","domainWidth":1,"tickColor":"#333333","tickSize":4,"labelFontSize":11.5,"labelColor":"#222222","titleFontSize":13,"titleFontWeight":"normal","titleColor":"#222222","titleLineHeight":15,"gridColor":"#e8e8e8","gridWidth":0.8,"labelPadding":2,"titlePadding":6},
 "legend":{"labelFont":"Liberation Serif, Times New Roman, serif","orient":"none","legendX":172,"legendY":-30,"direction":"horizontal","symbolType":"stroke","symbolSize":600,"symbolStrokeWidth":1.6,"labelFontSize":12,"labelColor":"#222222","columnPadding":22,"labelOffset":8}
}
}
